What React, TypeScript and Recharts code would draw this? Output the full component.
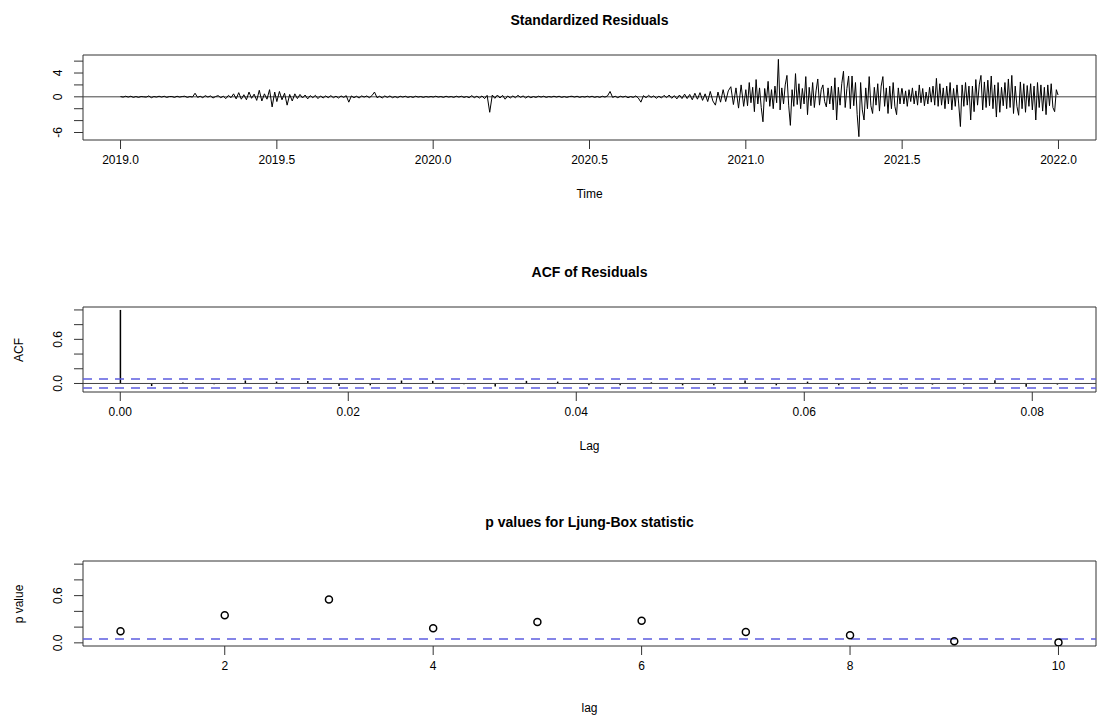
import React from 'react';
import { ComposedChart, Line, Bar, XAxis, YAxis, ReferenceLine, ReferenceArea } from 'recharts';

// standardized residuals, 2019.0 - 2020.9 read every 3rd day, half a year per array
const resid2019a = [0.05, -0.05, 0.1, -0.05, 0.1, -0.1, 0.05, -0.1, 0.05, 0.0,
  -0.05, 0.15, -0.15, 0.05, -0.05, 0.1, -0.05, 0.1, -0.1, 0.05,
  0.05, -0.1, 0.1, -0.05, 0.05, 0.1, -0.1, 0.05, -0.05, 0.6,
  -0.1, 0.1, -0.15, 0.2, -0.05, 0.15, -0.2, 0.05, 0.2, -0.15,
  0.1, -0.3, 0.25, -0.15, 0.5, -0.35, 0.7, -0.4, 0.35, -0.5,
  0.8, -0.25, 0.45, -0.6, 1.1, -0.7, 0.5, -0.4, 1.2, -1.7, 0.8];
const resid2019b = [-0.8, 0.9, -0.5, 0.6, -1.4, 0.4, -0.7, 0.5, -0.3, 0.4,
  -0.2, 0.3, -0.35, 0.2, -0.15, 0.25, -0.3, 0.15, -0.2, 0.15,
  -0.15, 0.2, -0.15, 0.1, -0.2, 0.15, -0.1, 0.2, -0.9, 0.15,
  -0.15, 0.1, -0.2, 0.15, -0.05, 0.15, -0.15, 0.2, 0.8, -0.15,
  0.1, -0.2, 0.15, -0.1, 0.15, -0.15, 0.05, -0.15, 0.1, -0.05,
  0.1, -0.1, 0.05, -0.1, 0.1, -0.05, 0.05, -0.1, 0.05, -0.05, 0.05];
const resid2020a = [-0.05, 0.1, -0.05, 0.05, -0.1, 0.1, -0.05, 0.05, -0.1, 0.1,
  -0.05, 0.1, -0.1, 0.05, -0.15, 0.2, -0.15, 0.1, -0.2, 0.15,
  -0.3, 0.25, -2.6, 0.3, -0.25, 0.3, -0.2, 0.25, -0.4, 0.15,
  -0.2, 0.15, -0.15, 0.25, -0.1, 0.15, -0.2, 0.1, -0.15, 0.05,
  -0.1, 0.1, -0.05, 0.1, -0.1, 0.05, -0.05, 0.1, -0.05, 0.1,
  -0.1, 0.05, -0.1, 0.05, 0.1, -0.05, 0.1, -0.1, 0.05, -0.05, 0.1];
const resid2020b = [-0.05, 0.1, -0.1, 0.05, -0.1, 0.1, -0.05, 0.15, 0.9, -0.1,
  0.1, -0.15, 0.1, -0.05, 0.1, -0.15, 0.05, -0.1, 0.15, -0.2,
  -0.9, 0.2, -0.15, 0.25, -0.1, 0.15, -0.25, 0.1, -0.2, 0.25,
  -0.15, 0.3, -0.25, 0.2, -0.35, 0.3, -0.3, 0.45, -0.3, 0.4,
  -0.5, 0.6, -0.4, 0.7, -0.6, 0.5, -0.8, 0.9, -0.7, -1.4,
  0.8, -0.9, 1.2, -0.8, 1.0, 1.7, -1.3, 1.5, -1.9, 2.0, -1.6];
// 2021 read every 2nd day
const resid2021a = [1.2, -1.5, 2.4, -1.0, 1.6, -2.5, 2.9, -1.2, 1.5, -1.8,
  -4.2, 1.4, -0.8, 2.6, -1.6, 1.2, -2.0, 1.8, -1.0, 6.3,
  -2.2, 1.5, -1.2, 2.0, 3.6, -1.4, -4.8, 1.2, -1.6, 3.9,
  -1.3, 2.2, -2.0, 1.4, -1.2, 3.4, -3.0, 1.6, -1.5, 2.4,
  -1.8, 1.0, 3.0, -1.4, 1.2, 2.0, -0.8, -1.7, 1.5, -1.2,
  1.8, -2.2, 3.2, -3.9, 1.6, -1.4, 2.2, 4.3, -1.8, 1.4,
  3.5, -2.0, 3.5, -1.5, 2.4, -3.0, -6.7, 2.4, -2.2, -3.9,
  1.5, -2.0, 3.4, -1.5, -2.8, 1.6, -1.4, 2.2, -2.4, 1.8,
  3.4, -1.6, 1.5, -2.8, 1.8, -2.0, 2.4, -1.6, -3.0, 1.5,
  -1.2, 1.4];
const resid2021b = [1.4, -1.2, 1.0, -1.6, 1.2, -0.8, 1.5, -1.2, 1.0, -1.4,
  2.0, -1.0, 1.4, -1.5, 0.8, -1.2, 1.6, -0.9, 1.8, -1.4,
  3.1, -1.6, 2.2, -1.4, 1.5, -2.0, 1.8, -1.2, 2.4, -2.2,
  1.4, -1.6, 2.0, -1.2, -5.0, 2.0, -1.6, 2.4, -1.4, 1.8,
  -3.9, 1.8, -2.5, 2.9, -1.4, 2.0, 3.6, -2.2, 2.5, -1.8,
  2.8, -1.5, 3.5, -2.0, 2.0, -3.4, 2.4, -2.6, 1.6, -1.5,
  2.4, -2.0, 3.0, -1.8, 3.6, -2.8, 1.8, -1.6, -3.1, 2.5,
  -2.0, 2.2, -2.6, 1.9, -1.6, 2.2, -2.2, 1.8, -3.9, 2.4,
  -1.8, 2.0, -2.4, 1.6, -3.0, 2.0, -1.5, 2.2, -1.8, -2.5,
  1.2, 0.3];
const residStarts = [2019, 2019.5, 2020, 2020.5, 2021, 2021.5];
const residStepDays = [3, 3, 3, 3, 2, 2];
const timeTicks = [2019, 2019.5, 2020, 2020.5, 2021, 2021.5, 2022];
const residTicks = [-6, -4, -2, 0, 2, 4, 6];
const residLabels = [-6, 0, 4];

// ACF of residuals, lags 0..30 (lag in years, frequency 365)
const acfValues = [1.0, -0.035, 0.012, -0.01, 0.04, 0.025, 0.035, -0.035, -0.025, 0.04,
  0.035, -0.01, -0.04, 0.035, 0.025, -0.025, -0.025, 0.015, -0.025, -0.025,
  0.04, -0.025, 0.025, -0.025, 0.025, -0.015, -0.015, -0.015, 0.045, -0.045, -0.015];
const acfFreq = 365;
const acfBound = 0.0604;
const lagTicks = [0, 0.02, 0.04, 0.06, 0.08];
const acfTicks = [0, 0.2, 0.4, 0.6, 0.8, 1.0];
const acfLabels = [0, 0.6];

// Ljung-Box p values
const lbLags = [1, 2, 3, 4, 5, 6, 7, 8, 9, 10];
const lbPValues = [0.147, 0.35, 0.55, 0.187, 0.265, 0.28, 0.137, 0.096, 0.02, 0.006];
const lbTicks = [2, 4, 6, 8, 10];
const pTicks = [0, 0.2, 0.4, 0.6, 0.8, 1.0];
const pLabels = [0, 0.6];

const FONT = '"Liberation Sans", Arial, Helvetica, sans-serif';
const W = 1097;
const H = 200;
const TOP = 55;
const PLOT_H = 85;
const LEFT = 83;
const BOX = '#333';
const BLUE = '#5c5ce0';

const residData = [resid2019a, resid2019b, resid2020a, resid2020b, resid2021a, resid2021b]
  .flatMap((vals, s) => vals.map((r, i) => ({ t: residStarts[s] + (i * residStepDays[s]) / 365, r })));
const acfData = acfValues.map((acf, k) => ({ lag: k / acfFreq, acf }));
const lbData = lbLags.map((lag, i) => ({ lag, p: lbPValues[i] }));

const rotTick = (shown: number[], digits: number) => (props: any) => {
  const { y, payload } = props;
  const v = payload.value;
  if (!shown.some(s => Math.abs(s - v) < 1e-9)) return <g />;
  const x = 62;
  return (
    <text x={x} y={y} transform={`rotate(-90, ${x}, ${y})`} textAnchor="middle"
      fontSize={12} fontFamily={FONT} fill="#000">
      {v.toFixed(digits)}
    </text>
  );
};

function Panel({ top, title, xLabel, yLabel, titleTop = 12, xLabelTop = 187, children }: any) {
  return (
    <div style={{ position: 'absolute', left: 0, top, width: W, height: 215 }}>
      <div style={{ position: 'absolute', left: LEFT, width: W - LEFT - 1, top: titleTop, textAlign: 'center',
        fontFamily: FONT, fontWeight: 'bold', fontSize: 14, lineHeight: '16px' }}>{title}</div>
      <div style={{ position: 'absolute', left: LEFT, width: W - LEFT - 1, top: xLabelTop, textAlign: 'center',
        fontFamily: FONT, fontSize: 12, lineHeight: '14px' }}>{xLabel}</div>
      {yLabel && (
        <div style={{ position: 'absolute', left: 19, top: TOP + PLOT_H / 2, fontFamily: FONT, fontSize: 12,
          lineHeight: '14px', whiteSpace: 'nowrap', transform: 'translate(-50%, -50%) rotate(-90deg)' }}>{yLabel}</div>
      )}
      <div style={{ position: 'absolute', left: 0, top: 0 }}>{children}</div>
    </div>
  );
}

const margin = { top: TOP, right: 1, bottom: 0, left: 0 };
const xTickStyle = { fontSize: 12, fontFamily: FONT, fill: '#000' };

export default function App() {
  const d1x: [number, number] = [2018.88, 2022.12];
  const d1y: [number, number] = [-7.26, 7.03];
  const d2x: [number, number] = [-0.00327, 0.08559];
  const d2y: [number, number] = [-0.116, 1.04];
  const d3x: [number, number] = [0.64, 10.36];
  const d3y: [number, number] = [-0.04, 1.04];
  return (
    <div style={{ position: 'absolute', left: 0, top: 0, width: W, height: 720, background: '#fff', overflow: 'hidden' }}>
      <Panel top={0} title="Standardized Residuals" xLabel="Time">
        <ComposedChart width={W} height={H} data={residData} margin={margin}>
          <XAxis dataKey="t" type="number" domain={d1x} ticks={timeTicks} allowDataOverflow
            tickFormatter={(v: number) => v.toFixed(1)} axisLine={false} tickSize={9} tickMargin={6}
            tickLine={{ stroke: BOX }} tick={xTickStyle} height={H - TOP - PLOT_H} interval={0} />
          <YAxis type="number" domain={d1y} ticks={residTicks} allowDataOverflow width={LEFT}
            axisLine={false} tickSize={9} tickLine={{ stroke: BOX }} tick={rotTick(residLabels, 0)} interval={0} />
          <ReferenceArea x1={d1x[0]} x2={d1x[1]} y1={d1y[0]} y2={d1y[1]} fill="none" stroke={BOX} ifOverflow="visible" />
          <ReferenceLine y={0} stroke="#444" />
          <Line dataKey="r" type="linear" stroke="#000" strokeWidth={1} dot={false} isAnimationActive={false} />
        </ComposedChart>
      </Panel>
      <Panel top={252} title="ACF of Residuals" xLabel="Lag" yLabel="ACF">
        <ComposedChart width={W} height={H} data={acfData} margin={margin}>
          <XAxis dataKey="lag" type="number" domain={d2x} ticks={lagTicks} allowDataOverflow
            tickFormatter={(v: number) => v.toFixed(2)} axisLine={false} tickSize={9} tickMargin={6}
            tickLine={{ stroke: BOX }} tick={xTickStyle} height={H - TOP - PLOT_H} interval={0} />
          <YAxis type="number" domain={d2y} ticks={acfTicks} allowDataOverflow width={LEFT}
            axisLine={false} tickSize={9} tickLine={{ stroke: BOX }} tick={rotTick(acfLabels, 1)} interval={0} />
          <ReferenceArea x1={d2x[0]} x2={d2x[1]} y1={d2y[0]} y2={d2y[1]} fill="none" stroke={BOX} ifOverflow="visible" />
          <ReferenceLine y={0} stroke="#444" />
          <ReferenceLine y={acfBound} stroke={BLUE} strokeWidth={1.5} strokeDasharray="9 7" />
          <ReferenceLine y={-acfBound} stroke={BLUE} strokeWidth={1.5} strokeDasharray="9 7" />
          <Bar dataKey="acf" barSize={1.5} fill="#000" isAnimationActive={false} />
        </ComposedChart>
      </Panel>
      <Panel top={506} title="p values for Ljung-Box statistic" xLabel="lag" yLabel="p value" titleTop={8} xLabelTop={195}>
        <ComposedChart width={W} height={H} data={lbData} margin={margin}>
          <XAxis dataKey="lag" type="number" domain={d3x} ticks={lbTicks} allowDataOverflow
            axisLine={false} tickSize={9} tickMargin={6}
            tickLine={{ stroke: BOX }} tick={xTickStyle} height={H - TOP - PLOT_H} interval={0} />
          <YAxis type="number" domain={d3y} ticks={pTicks} allowDataOverflow width={LEFT}
            axisLine={false} tickSize={9} tickLine={{ stroke: BOX }} tick={rotTick(pLabels, 1)} interval={0} />
          <ReferenceArea x1={d3x[0]} x2={d3x[1]} y1={d3y[0]} y2={d3y[1]} fill="none" stroke={BOX} ifOverflow="visible" />
          <ReferenceLine y={0.05} stroke={BLUE} strokeWidth={1.5} strokeDasharray="9 7" />
          <Line dataKey="p" type="linear" stroke="none" isAnimationActive={false}
            dot={{ r: 3.5, fill: 'none', stroke: '#000', strokeWidth: 1.5 }} />
        </ComposedChart>
      </Panel>
    </div>
  );
}
